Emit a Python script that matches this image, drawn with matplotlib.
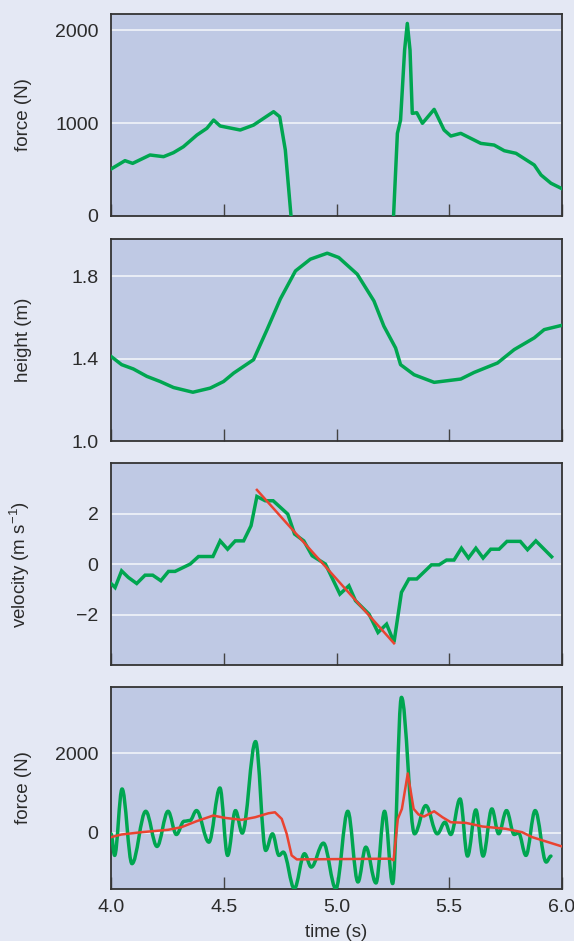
#!/usr/bin/env python
# coding: utf-8

"""
Four stacked panels of a jump recording: force, height, velocity and
force again (derived and smoothed), all against time.
"""

import numpy as np
import matplotlib

matplotlib.use("Agg")
import matplotlib.pyplot as plt
from matplotlib.path import Path
from matplotlib.patches import PathPatch

nan = np.nan

# 1. force plate signal (top panel)
time_force = [4.0, 4.062, 4.096, 4.173, 4.233, 4.277, 4.321, 4.381, 4.425, 4.455, 4.484, 4.573,
              4.632, 4.721, 4.748, 4.773, 4.80, nan, 5.252, 5.27, 5.284, 5.302, 5.314, 5.326,
              5.336, 5.356, 5.381, 5.433, 5.477, 5.507, 5.551, 5.64, 5.699, 5.744, 5.796, 5.877,
              5.907, 5.951, 5.996]
force = [505, 595, 566, 656, 638, 681, 745, 871, 943, 1032, 968, 925,
         978, 1122, 1068, 710, -50, nan, -50, 889, 1032, 1785, 2072, 1785,
         1104, 1111, 997, 1147, 925, 860, 889, 781, 763, 702, 674, 548,
         441, 352, 298]

# 2. height
time_height = [4.0, 4.047, 4.099, 4.159, 4.218, 4.277, 4.363, 4.44, 4.499, 4.544, 4.632, 4.692,
               4.751, 4.818, 4.884, 4.959, 5.01, 5.092, 5.166, 5.21, 5.262, 5.284, 5.344, 5.433,
               5.551, 5.61, 5.714, 5.788, 5.877, 5.921, 6.0]
height = [1.411, 1.371, 1.350, 1.314, 1.289, 1.260, 1.237, 1.257, 1.289, 1.330, 1.395, 1.541,
          1.69, 1.826, 1.883, 1.912, 1.891, 1.810, 1.680, 1.558, 1.452, 1.371, 1.322, 1.285,
          1.301, 1.333, 1.379, 1.444, 1.501, 1.541, 1.562]

# 3. velocity and straight-line fit during flight
time_velocity = [4.0, 4.018, 4.047, 4.077, 4.114, 4.151, 4.185, 4.221, 4.255, 4.284, 4.351, 4.388,
                 4.452, 4.484, 4.517, 4.551, 4.588, 4.621, 4.647, 4.684, 4.719, 4.784, 4.814,
                 4.855, 4.892, 4.951, 5.015, 5.055, 5.084, 5.144, 5.184, 5.222, 5.255, 5.288,
                 5.321, 5.356, 5.421, 5.455, 5.488, 5.521, 5.554, 5.585, 5.618, 5.65, 5.684,
                 5.721, 5.756, 5.815, 5.847, 5.884, 5.954]
velocity = [-0.77, -0.93, -0.27, -0.53, -0.77, -0.44, -0.44, -0.66, -0.29, -0.29, 0.0, 0.30,
            0.30, 0.92, 0.59, 0.92, 0.92, 1.52, 2.68, 2.51, 2.51, 1.98, 1.19,
            0.92, 0.33, 0.0, -1.19, -0.86, -1.45, -1.98, -2.71, -2.38, -3.10, -1.12,
            -0.59, -0.59, -0.03, -0.03, 0.16, 0.16, 0.63, 0.24, 0.63, 0.24, 0.59,
            0.59, 0.90, 0.90, 0.57, 0.92, 0.29]
time_fit = [4.647, 5.255]
velocity_fit = [2.94, -3.14]

# 4. force derived from the height (green, turning points) and smoothed (red)
time_derived = [4.0, 4.016, 4.049, 4.093, 4.154, 4.204, 4.253, 4.29, 4.324, 4.35, 4.379, 4.434,
                4.483, 4.517, 4.552, 4.582, 4.641, 4.686, 4.716, 4.745, 4.764, 4.813, 4.858,
                4.888, 4.942, 4.997, 5.05, 5.095, 5.13, 5.175, 5.213, 5.249, 5.288, 5.346,
                5.396, 5.447, 5.481, 5.507, 5.548, 5.581, 5.618, 5.65, 5.689, 5.719, 5.754,
                5.788, 5.807, 5.84, 5.881, 5.93, 5.951]
force_derived = [-25, -568, 1100, -775, 540, -343, 540, -43, 290, 308, 558, -235,
                 1125, -568, 558, -8, 2290, -443, -25, -568, -485, -1400, -525,
                 -860, -260, -1400, 540, -1235, -360, -1260, 540, -1275, 3400, -25,
                 683, -25, 265, -43, 850, -585, 575, -585, 600, -25, 558,
                 -43, 0, -568, 558, -735, -585]
time_smooth = [4.0, 4.046, 4.135, 4.253, 4.312, 4.379, 4.453, 4.505, 4.579, 4.639, 4.698, 4.727,
               4.757, 4.779, 4.801, 4.824, 5.239, 5.253, 5.272, 5.29, 5.316, 5.342, 5.364, 5.388,
               5.433, 5.47, 5.507, 5.573, 5.647, 5.751, 5.823, 5.868, 6.0]
force_smooth = [-110, -43, 15, 75, 140, 290, 433, 375, 325, 390, 490, 515,
                350, -25, -568, -668, -650, -690, 350, 600, 1490, 600, 458, 408,
                540, 390, 265, 250, 158, 100, 15, -110, -343]

GREEN = "#00a650"
RED = "#ea4330"
FIG_BG = "#e4e8f4"
AX_BG = "#bfc9e4"
TEXT = "#2b2b2b"


def smooth_path(xs, ys, k=0.36):
    # cubic segments between turning points, flat tangent at each point
    verts = [(xs[0], ys[0])]
    codes = [Path.MOVETO]
    for x0, y0, x1, y1 in zip(xs[:-1], ys[:-1], xs[1:], ys[1:]):
        dx = x1 - x0
        verts += [(x0 + k * dx, y0), (x1 - k * dx, y1), (x1, y1)]
        codes += [Path.CURVE4] * 3
    return Path(verts, codes)


def style_axis(ax, yticks, yticklabels, ylim, ylabel, gridlines):
    ax.set_facecolor(AX_BG)
    ax.set_xlim(4.0, 6.0)
    ax.set_ylim(*ylim)
    ax.set_yticks(yticks)
    ax.set_yticklabels(yticklabels)
    ax.set_xticks([4.0, 4.5, 5.0, 5.5, 6.0])
    for g in gridlines:
        ax.axhline(g, color="white", linewidth=1.1, alpha=0.85, zorder=1)
    ax.tick_params(axis="y", length=0, pad=9, labelsize=14, labelcolor=TEXT)
    ax.tick_params(axis="x", direction="in", length=8.5, width=1.0, color="#444444",
                   pad=7, labelsize=14, labelcolor=TEXT)
    for side in ax.spines.values():
        side.set_color("#333333")
        side.set_linewidth(1.3)
    ax.set_ylabel(ylabel, fontsize=13.5, color=TEXT)
    ax.yaxis.set_label_coords(-0.175, 0.5)


plt.rcParams["font.family"] = ["Liberation Sans", "DejaVu Sans"]
plt.rcParams["mathtext.fontset"] = "custom"
plt.rcParams["mathtext.rm"] = "Liberation Sans"
plt.rcParams["mathtext.it"] = "Liberation Sans"

fig = plt.figure(figsize=(5.74, 9.41), dpi=100, facecolor=FIG_BG)
left, width = 0.1934, 0.7857
bottoms = [0.7705, 0.5313, 0.2933, 0.0553]
height_ax = 0.2145
axes = [fig.add_axes([left, b, width, height_ax]) for b in bottoms]

# top: force
ax = axes[0]
ax.plot(time_force, force, color=GREEN, linewidth=2.5, solid_joinstyle="round", zorder=3)
style_axis(ax, [0, 1000, 2000], ["0", "1000", "2000"], (0, 2172), "force (N)", [1000, 2000])

# height
ax = axes[1]
ax.plot(time_height, height, color=GREEN, linewidth=2.5, solid_joinstyle="round", zorder=3)
style_axis(ax, [1.0, 1.4, 1.8], ["1.0", "1.4", "1.8"], (1.0, 1.98), "height (m)", [1.4, 1.8])

# velocity
ax = axes[2]
ax.plot(time_velocity, velocity, color=GREEN, linewidth=2.5, solid_joinstyle="miter", zorder=3)
ax.plot(time_fit, velocity_fit, color=RED, linewidth=1.8, zorder=4)
style_axis(ax, [-2, 0, 2], ["\u22122", "0", "2"], (-4.0, 4.0),
           r"velocity (m s$^{\mathregular{-1}}$)", [-2, 0, 2])

# bottom: force from height
ax = axes[3]
ax.add_patch(PathPatch(smooth_path(time_derived, force_derived), fill=False, edgecolor=GREEN,
                       linewidth=2.5, capstyle="round", joinstyle="round", zorder=3))
ax.plot(time_smooth, force_smooth, color=RED, linewidth=1.8, solid_joinstyle="round", zorder=4)
style_axis(ax, [0, 2000], ["0", "2000"], (-1410, 3657), "force (N)", [0, 2000])
ax.set_xticklabels(["4.0", "4.5", "5.0", "5.5", "6.0"])
ax.set_xlabel("time (s)", fontsize=13.5, color=TEXT, labelpad=6)

for ax in axes[:3]:
    ax.tick_params(axis="x", labelbottom=False)

fig.savefig("out.png", dpi=100, facecolor=FIG_BG)
